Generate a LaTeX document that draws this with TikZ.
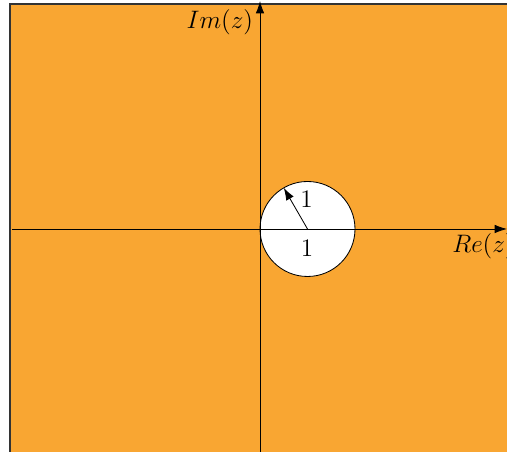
\documentclass[tikz,border=0pt]{standalone}
\usetikzlibrary{arrows.meta,calc}
\definecolor{regionorange}{RGB}{249,166,50}
\begin{document}
\begin{tikzpicture}[
  axis/.style={line width=0.5pt,-{Latex[length=2.6mm,width=1.8mm]}},
  lbl/.style={font=\Large,inner sep=0pt,scale=1.05}
]
\useasboundingbox (-5.474,-4.695) rectangle (5.2,4.821);
\fill[regionorange,draw=black!80,line width=0.8pt] (-5.263,-5.5) rectangle (6,4.737);
\fill[white,draw=black,line width=0.5pt] (1,0) circle (1);
\coordinate (xs) at (-5.22,0);
\coordinate (xe) at (5.2,0);
\coordinate (ys) at (0,-5);
\coordinate (ye) at (0,4.8);
\coordinate (c) at (1,0);
\coordinate (r) at ($(1,0)+(120:1)$);
\draw[axis] (xs) -- (xe);
\draw[axis] (ys) -- (ye);
\draw[axis] (c) -- (r);
\node[lbl,anchor=east] (im) at (-0.14,4.36) {$Im(z)$};
\node[lbl,anchor=west] (re) at (4.04,-0.36) {$Re(z)$};
\node[lbl] (one1) at (0.98,0.63) {$1$};
\node[lbl] (one2) at (0.99,-0.4) {$1$};
\end{tikzpicture}
\end{document}
